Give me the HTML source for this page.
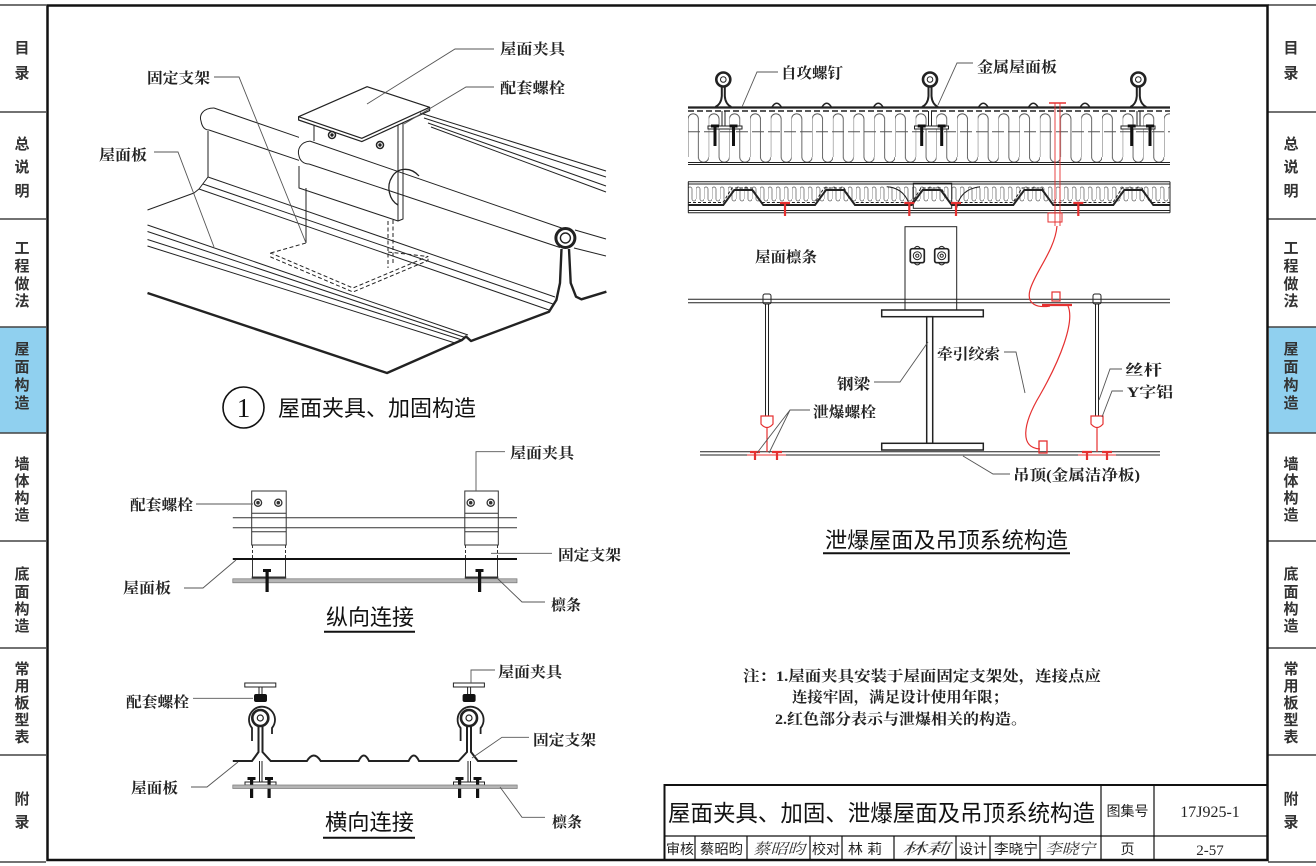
<!DOCTYPE html>
<html><head><meta charset="utf-8">
<style>
html,body{margin:0;padding:0;background:#fff;}
body{width:1316px;height:866px;overflow:hidden;}
svg{display:block;}
.side{font-family:"Liberation Sans","Noto Sans CJK SC",sans-serif;font-size:15px;font-weight:bold;fill:#333;}
.lab{font-family:"Liberation Serif","Noto Serif CJK SC",serif;font-size:15px;font-weight:bold;fill:#222;}
.ttl{font-family:"Liberation Sans","Noto Sans CJK SC",sans-serif;font-size:22px;fill:#111;}
.tb{font-family:"Liberation Sans","Noto Sans CJK SC",sans-serif;font-size:14px;fill:#222;}
.tbs{font-family:"Liberation Serif","Noto Serif CJK SC",serif;font-size:15px;fill:#222;}
.sig{font-family:"Liberation Serif","Noto Serif CJK SC",serif;font-size:15px;font-style:italic;fill:#333;}
</style></head><body>
<svg width="1316" height="866" viewBox="0 0 1316 866" xmlns="http://www.w3.org/2000/svg">
<defs>
<pattern id="ins1" patternUnits="userSpaceOnUse" x="688" y="111" width="20.7" height="52">
<path d="M0,46 L0,8 A5.175,5.175 0 0 1 10.35,8 L10.35,46 A5.175,5.175 0 0 0 20.7,46" fill="none" stroke="#444" stroke-width="0.8"/>
</pattern>
<pattern id="ins2" patternUnits="userSpaceOnUse" x="688" y="185" width="8" height="18">
<path d="M0,14 L0,4 A2,2 0 0 1 4,4 L4,14 A2,2 0 0 0 8,14" fill="none" stroke="#555" stroke-width="0.7"/>
</pattern>
</defs>
<rect x="0" y="0" width="1316" height="866" fill="#fff"/>

<!-- ===== Sidebars ===== -->
<rect x="0" y="327" width="46" height="106" fill="#90d0ef"/>
<rect x="1269" y="327" width="47" height="106" fill="#90d0ef"/>
<g stroke="#444" stroke-width="1.5">
<path d="M0,5 H46 M0,112 H46 M0,219 H46 M0,327 H46 M0,433 H46 M0,541 H46 M0,648 H46 M0,755 H46 M0,862 H46"/>
<path d="M1268,5 H1316 M1268,112 H1316 M1268,219 H1316 M1268,327 H1316 M1268,433 H1316 M1268,541 H1316 M1268,648 H1316 M1268,755 H1316 M1268,862 H1316"/>
</g>
<g class="side" text-anchor="middle">
<text x="22" y="53">目</text><text x="22" y="78">录</text>
<text x="22" y="149">总</text><text x="22" y="172">说</text><text x="22" y="196">明</text>
<text x="22" y="253">工</text><text x="22" y="271">程</text><text x="22" y="289">做</text><text x="22" y="306">法</text>
<text x="22" y="354">屋</text><text x="22" y="372">面</text><text x="22" y="390">构</text><text x="22" y="408">造</text>
<text x="22" y="469">墙</text><text x="22" y="486">体</text><text x="22" y="503">构</text><text x="22" y="520">造</text>
<text x="22" y="579">底</text><text x="22" y="597">面</text><text x="22" y="614">构</text><text x="22" y="631">造</text>
<text x="22" y="674">常</text><text x="22" y="691">用</text><text x="22" y="708">板</text><text x="22" y="725">型</text><text x="22" y="742">表</text>
<text x="22" y="804">附</text><text x="22" y="827">录</text>

<text x="1291" y="53">目</text><text x="1291" y="78">录</text>
<text x="1291" y="149">总</text><text x="1291" y="172">说</text><text x="1291" y="196">明</text>
<text x="1291" y="253">工</text><text x="1291" y="271">程</text><text x="1291" y="289">做</text><text x="1291" y="306">法</text>
<text x="1291" y="354">屋</text><text x="1291" y="372">面</text><text x="1291" y="390">构</text><text x="1291" y="408">造</text>
<text x="1291" y="469">墙</text><text x="1291" y="486">体</text><text x="1291" y="503">构</text><text x="1291" y="520">造</text>
<text x="1291" y="579">底</text><text x="1291" y="597">面</text><text x="1291" y="614">构</text><text x="1291" y="631">造</text>
<text x="1291" y="674">常</text><text x="1291" y="691">用</text><text x="1291" y="708">板</text><text x="1291" y="725">型</text><text x="1291" y="742">表</text>
<text x="1291" y="804">附</text><text x="1291" y="827">录</text>
</g>

<!-- ===== Main frame ===== -->
<rect x="47.5" y="5.5" width="1220" height="854.5" fill="none" stroke="#111" stroke-width="2.5"/>

<!-- ===== Diagram 1: isometric ===== -->
<g fill="none" stroke="#222" stroke-width="1" stroke-linejoin="round">
<path d="M147.5,225 L468,335 M147.5,231.5 L465,337.5 M147.5,239.5 L462,340 M147.5,246 L455,343"/>
<path d="M147.5,210 L194,193 L199,189 L208,177 L208,131"/>
<path d="M208,177 L555,297 M203,184 L553,304 M199,189 L549,310"/>
<path d="M214,108 L300,137.7 M209,130 L300,160.7"/>
<path d="M214,108 C203,108 199,115 201,121 C202,127 205,130 209,130"/>
<path d="M299,120 L299,188 L398,221 L403,219 L403,115 L360,100 Z" fill="#fff" stroke="none"/>
<path d="M299,166 L299,188 L398,221 L398,117 M403,117 L403,219 L398,221 M314,122 L314,141"/>
<path d="M310,141.1 L563,228.5 M309,164 L560,247.5"/>
<path d="M310,141.1 C300,142 297,150 299,156 C300,161 304,164 309,164" fill="#fff"/>
<path d="M398,205 C389,200 386,186 392,177 C397,168 410,166 419,176" stroke-width="1.3"/>
<path d="M306,188 L306,243"/>
<path d="M388,221 L388,268 M393,220 L393,265" stroke-dasharray="4 2.5"/>
<path d="M270.7,253 L306,243 M388,252 L428,256.5 L353,288 L270.7,253 L270.7,257 L353,292 L428,260.5 L428,256.5" stroke-dasharray="4 2.5"/>
<path d="M298.6,116.7 L367.1,86.7 L429.6,107.3 L429.6,110.6 L361.8,141.6 L298.6,120 Z" fill="#fff" stroke-width="1.2"/>
<path d="M298.6,116.7 L361.8,138.3 L429.6,107.3" stroke-width="1.2"/>
<circle cx="332" cy="135" r="3.5" stroke-width="1.5"/><circle cx="332" cy="135" r="1.2" fill="#222"/>
<circle cx="380" cy="145" r="3.5" stroke-width="1.5"/><circle cx="380" cy="145" r="1.2" fill="#222"/>
<path d="M420,113 L606,171 M424,118 L606,177 M428,123 L606,186 M431,127 L606,192"/>
<path d="M575,230 L606,239 M574,248 L606,256"/>
<path d="M147.5,293 L387,373 L462,340 L466,336.5 L471,341 L549,311.7 L556.4,300 L560,283 L561.5,249" stroke-width="2.4"/>
<path d="M569,249 L570.7,283 L576,296.7 L581.4,299.3 L606.4,291.7" stroke-width="2.4"/>
<circle cx="565.4" cy="238" r="9.5" stroke-width="3" fill="#fff"/>
<circle cx="565.4" cy="238" r="5" stroke-width="1.4"/>
</g>
<g fill="none" stroke="#555" stroke-width="0.9">
<path d="M494,49 L455,49 L367,104"/>
<path d="M494,87 L466,87 L404,124"/>
<path d="M214,77 L239,77 L306,243"/>
<path d="M154,152 L178,152 L214,247"/>
</g>
<g class="lab">
<text x="500" y="54" textLength="65" lengthAdjust="spacingAndGlyphs">屋面夹具</text>
<text x="500" y="93" textLength="65" lengthAdjust="spacingAndGlyphs">配套螺栓</text>
<text x="147" y="83" textLength="63" lengthAdjust="spacingAndGlyphs">固定支架</text>
<text x="99" y="160" textLength="48" lengthAdjust="spacingAndGlyphs">屋面板</text>
</g>
<circle cx="243.5" cy="407.5" r="20.5" fill="none" stroke="#111" stroke-width="1.6"/>
<text x="243.5" y="417" text-anchor="middle" style="font-family:'Liberation Serif',serif;font-size:27px;fill:#111">1</text>
<text class="ttl" x="278" y="416" textLength="198" lengthAdjust="spacingAndGlyphs">屋面夹具、加固构造</text>

<!-- ===== Diagram 2: 纵向连接 ===== -->
<g fill="none" stroke="#333" stroke-width="1">
<path d="M232.8,517.7 H517 M232.8,527.7 H517"/>
<rect x="251.7" y="491" width="34.5" height="54" fill="none"/>
<path d="M251.7,513.3 H286.2 M251.7,531.7 H286.2"/>
<rect x="464.8" y="491" width="33.5" height="54" fill="none"/>
<path d="M464.8,513.3 H498.3 M464.8,531.7 H498.3"/>
<path d="M252.5,545 V559 M285.5,545 V559 M465.5,545 V559 M497.5,545 V559" stroke-dasharray="3 2"/>
<path d="M252.5,559 V577 M285.5,559 V577 M465.5,559 V577 M497.5,559 V577"/>
<path d="M251.7,577.5 H286.2 M464.8,577.5 H498.3" stroke-width="2"/>
<circle cx="258" cy="502.7" r="3.6" stroke-width="1.3"/><circle cx="258" cy="502.7" r="1.3" fill="#333"/>
<circle cx="278.3" cy="502.7" r="3.6" stroke-width="1.3"/><circle cx="278.3" cy="502.7" r="1.3" fill="#333"/>
<circle cx="470.7" cy="502.7" r="3.6" stroke-width="1.3"/><circle cx="470.7" cy="502.7" r="1.3" fill="#333"/>
<circle cx="490.7" cy="502.7" r="3.6" stroke-width="1.3"/><circle cx="490.7" cy="502.7" r="1.3" fill="#333"/>
</g>
<path d="M232.8,559 H517" stroke="#111" stroke-width="2"/>
<rect x="232.8" y="578.8" width="284.2" height="4" fill="#b5b5b5" stroke="#777" stroke-width="0.7"/>
<g fill="#111">
<rect x="265.5" y="570" width="3.2" height="22"/><rect x="263" y="569" width="8" height="3"/>
<rect x="478" y="570" width="3.2" height="22"/><rect x="475.5" y="569" width="8" height="3"/>
</g>
<g fill="none" stroke="#555" stroke-width="0.9">
<path d="M505,451.7 H476 V491"/>
<path d="M196,504 H253"/>
<path d="M552,553.3 H491"/>
<path d="M184,588 H203 L236,560"/>
<path d="M545,602 H522 L498,579"/>
</g>
<g class="lab">
<text x="510" y="458" textLength="64" lengthAdjust="spacingAndGlyphs">屋面夹具</text>
<text x="130" y="510" textLength="63" lengthAdjust="spacingAndGlyphs">配套螺栓</text>
<text x="558" y="560" textLength="63" lengthAdjust="spacingAndGlyphs">固定支架</text>
<text x="123" y="593" textLength="48" lengthAdjust="spacingAndGlyphs">屋面板</text>
<text x="551" y="610" textLength="30" lengthAdjust="spacingAndGlyphs">檩条</text>
</g>
<text class="ttl" x="326" y="625" textLength="88" lengthAdjust="spacingAndGlyphs">纵向连接</text>
<path d="M324,631.7 H415" stroke="#111" stroke-width="2"/>

<!-- ===== Diagram 3: 横向连接 ===== -->
<g fill="none" stroke="#222" stroke-width="1">
<rect x="244.8" y="683" width="31" height="4"/>
<rect x="453.4" y="683" width="31" height="4"/>
<path d="M259,687 V695 M262,687 V695 M467.6,687 V695 M470.6,687 V695"/>
<path d="M252,741 L252,728 A13,13 0 1 1 272,728 L272,734" stroke-width="1.8"/>
<path d="M460.6,741 L460.6,728 A13,13 0 1 1 480.6,728 L480.6,734" stroke-width="1.8"/>
<circle cx="260.3" cy="718" r="8" stroke-width="2.6"/><circle cx="260.3" cy="718" r="3" stroke-width="1.2"/>
<circle cx="469" cy="718" r="8" stroke-width="2.6"/><circle cx="469" cy="718" r="3" stroke-width="1.2"/>
<path d="M232.8,761 L252,761 L258.5,752 L258.5,726 M262.5,726 L262.5,752 L270.7,761 L306.9,761 Q313.8,750 320.7,761 L358.6,761 Q363.8,750 369,761 L408.6,761 Q413.8,750 419,761 L458.6,761 L467,752 L467,726 M471,726 L471,752 L478,761 L517.2,761" stroke-width="2"/>
<path d="M259.5,761 V783 M262,761 V783 M468,761 V783 M470.5,761 V783"/>
<rect x="245" y="782" width="31" height="3" fill="#fff"/>
<rect x="453.5" y="782" width="31" height="3" fill="#fff"/>
</g>
<g fill="#111">
<rect x="254" y="694" width="13" height="8" rx="2"/>
<rect x="462.6" y="694" width="13" height="8" rx="2"/>
<rect x="250" y="778" width="3.2" height="20"/><rect x="247.5" y="777" width="8" height="3"/>
<rect x="267.5" y="778" width="3.2" height="20"/><rect x="265" y="777" width="8" height="3"/>
<rect x="458" y="778" width="3.2" height="20"/><rect x="455.5" y="777" width="8" height="3"/>
<rect x="476" y="778" width="3.2" height="20"/><rect x="473.5" y="777" width="8" height="3"/>
</g>
<rect x="232.8" y="785" width="284.4" height="3.5" fill="#b5b5b5" stroke="#777" stroke-width="0.7"/>
<g fill="none" stroke="#555" stroke-width="0.9">
<path d="M495,670 H471 V683"/>
<path d="M193,698.3 H253"/>
<path d="M529,737.3 H502 L472,758"/>
<path d="M191,787 H207 L238,762"/>
<path d="M545,817.3 H522 L500,787"/>
</g>
<g class="lab">
<text x="498" y="677" textLength="64" lengthAdjust="spacingAndGlyphs">屋面夹具</text>
<text x="126" y="707" textLength="63" lengthAdjust="spacingAndGlyphs">配套螺栓</text>
<text x="533" y="745" textLength="63" lengthAdjust="spacingAndGlyphs">固定支架</text>
<text x="131" y="793" textLength="47" lengthAdjust="spacingAndGlyphs">屋面板</text>
<text x="552" y="827" textLength="30" lengthAdjust="spacingAndGlyphs">檩条</text>
</g>
<text class="ttl" x="325" y="830" textLength="89" lengthAdjust="spacingAndGlyphs">横向连接</text>
<path d="M323,837.7 H415" stroke="#111" stroke-width="2"/>

<!-- ===== Diagram 4: 泄爆屋面及吊顶 ===== -->
<rect x="688" y="112" width="482" height="50" fill="url(#ins1)"/>
<g fill="none" stroke="#222" stroke-width="1">
<path d="M688,131.7 H1170" stroke-dasharray="12 4" stroke="#555"/>
<path d="M688,162.5 H1170 M688,164.5 H1170"/>
<path d="M688,111 H1170" stroke-dasharray="6 3" stroke-width="1.5"/>
<path d="M688,107.5 H1170" stroke-width="2.2"/>
<path d="M771.7,107.5 Q776.7,99 781.7,107.5 M821.7,107.5 Q826.7,99 831.7,107.5 M873.3,107.5 Q878.3,99 883.3,107.5 M978.3,107.5 Q983.3,99 988.3,107.5 M1028.3,107.5 Q1033.3,99 1038.3,107.5 M1080,107.5 Q1085,99 1090,107.5" stroke-width="1.5"/>
<g stroke-width="2">
<path d="M715.3,107 Q721.3,104 721.8,96 L721.8,87 M724.8,87 L724.8,96 Q725.3,104 731.3,107"/>
<path d="M922,107 Q928,104 928.5,96 L928.5,87 M931.5,87 L931.5,96 Q932,104 938,107"/>
<path d="M1130.3,107 Q1136.3,104 1136.8,96 L1136.8,87 M1139.8,87 L1139.8,96 Q1140.3,104 1146.3,107"/>
</g>
<circle cx="723.3" cy="79.5" r="7" stroke-width="2.6" fill="#fff"/><circle cx="723.3" cy="79.5" r="2.8"/>
<circle cx="930" cy="79.5" r="7" stroke-width="2.6" fill="#fff"/><circle cx="930" cy="79.5" r="2.8"/>
<circle cx="1138.3" cy="79.5" r="7" stroke-width="2.6" fill="#fff"/><circle cx="1138.3" cy="79.5" r="2.8"/>
<path d="M722,111 V126 M725,111 V126 M928.5,111 V126 M931.5,111 V126 M1137,111 V126 M1140,111 V126"/>
<rect x="708" y="126" width="34" height="3" fill="#fff"/>
<rect x="914.5" y="126" width="34" height="3" fill="#fff"/>
<rect x="1121" y="126" width="34" height="3" fill="#fff"/>
</g>
<g fill="#111">
<rect x="713.5" y="126" width="3" height="20"/><rect x="711" y="124.5" width="8" height="3"/>
<rect x="732" y="126" width="3" height="20"/><rect x="729.5" y="124.5" width="8" height="3"/>
<rect x="920.2" y="126" width="3" height="20"/><rect x="917.7" y="124.5" width="8" height="3"/>
<rect x="940.2" y="126" width="3" height="20"/><rect x="937.7" y="124.5" width="8" height="3"/>
<rect x="1130.2" y="126" width="3" height="20"/><rect x="1127.7" y="124.5" width="8" height="3"/>
<rect x="1148.5" y="126" width="3" height="20"/><rect x="1146" y="124.5" width="8" height="3"/>
</g>
<rect x="688" y="186" width="482" height="18" fill="url(#ins2)"/>
<g fill="none" stroke="#222" stroke-width="1">
<path d="M688,181.7 H1170 M688,184 H1170 M688,210.5 H1170 M688,212.7 H1170 M688.3,181.7 V212.7 M1170,181.7 V212.7"/>
<path d="M688,202.5 H723 L732,188 H752 L761,202.5 H815 L824,188 H844 L853,202.5 H912 L921,188 H941 L950,202.5 H1013 L1022,188 H1042 L1051,202.5 H1113 L1122,188 H1142 L1151,202.5 H1170" stroke-dasharray="3 2"/>
<path d="M688,205 H723.3 L734.3,190 H752.3 L763.3,205 H815 L826,190 H844 L855,205 H911.7 L922.7,190 H940.7 L951.7,205 H1013.3 L1024.3,190 H1042.3 L1053.3,205 H1113.3 L1124.3,190 H1142.3 L1153.3,205 H1170" stroke-width="2"/>
<rect x="913.3" y="183.3" width="38.4" height="25"/>
<path d="M886.7,186.7 Q905,188 910,206.7 M956.7,208 Q960,189 980,186.7"/>
</g>
<g stroke="#e53030" fill="none">
<path d="M780,203 H790 M785,203 V216 M904.3,203 H914.3 M909.3,203 V216 M951,203 H961 M956,203 V216 M1073.3,203 H1083.3 M1078.3,203 V216" stroke-width="2.2"/>
<path d="M1055,103 V226 M1060,103 V226" stroke-width="0.9"/>
<path d="M1049,103 H1066" stroke-width="1.6"/>
<rect x="1048" y="213" width="14" height="9" stroke-width="1"/>
</g>
<g fill="none" stroke="#222" stroke-width="1">
<rect x="905" y="226.7" width="51.7" height="83.3" fill="#fff"/>
<rect x="910.3" y="248.7" width="14" height="14" rx="2" stroke-width="1.7"/>
<rect x="934.7" y="248.7" width="14" height="14" rx="2" stroke-width="1.7"/>
<circle cx="917.3" cy="255.7" r="4"/><circle cx="917.3" cy="255.7" r="1.6"/>
<circle cx="941.7" cy="255.7" r="4"/><circle cx="941.7" cy="255.7" r="1.6"/>
<path d="M914,248.7 Q917.3,244 920.6,248.7 M914,262.7 Q917.3,267 920.6,262.7 M938.4,248.7 Q941.7,244 945,248.7 M938.4,262.7 Q941.7,267 945,262.7"/>
<path d="M688,299.3 H1170 M688,302.7 H1170"/>
<rect x="881.7" y="310" width="101.6" height="6.7" fill="#fff" stroke-width="1.5"/>
<rect x="926.7" y="316.7" width="6" height="126.6" fill="#fff" stroke-width="1.5"/>
<rect x="881.7" y="443.3" width="101.6" height="6.7" fill="#fff" stroke-width="1.5"/>
<path d="M700,451.7 H1160 M700,455 H1160"/>
<rect x="763" y="294" width="8" height="10" rx="2"/>
<path d="M765.5,304 V416 M768.5,304 V416"/>
<rect x="1093" y="294" width="8" height="10" rx="2"/>
<path d="M1095.5,304 V416 M1098.5,304 V416"/>
</g>
<g fill="none" stroke="#e53030">
<path d="M761,416 L761,424 Q767,431 773,424 L773,416 Z" stroke-width="1.2"/>
<path d="M1091,416 L1091,424 Q1097,431 1103,424 L1103,416 Z" stroke-width="1.2"/>
<path d="M767,428 V452 M1097,428 V452" stroke-width="1.2"/>
<path d="M750,452 H760 M755,452 V460 M772,452 H782 M777,452 V460 M1082,452 H1092 M1087,452 V460 M1102,452 H1112 M1107,452 V460" stroke-width="2.2"/>
<path d="M747,455 H786 M1078,455 H1116" stroke-width="1"/>
<path d="M1057,226 C1055,250 1035,272 1030,290 C1026,305 1038,308 1050,306" stroke-width="1.2"/>
<rect x="1052" y="292" width="8" height="9" stroke-width="1.2"/>
<path d="M1042,305 H1072" stroke-width="2.2"/>
<path d="M1068,306 C1075,322 1060,360 1040,395 C1022,425 1020,448 1040,449" stroke-width="1.2"/>
<rect x="1039" y="441" width="8" height="12" stroke-width="1.3"/>
</g>
<g fill="none" stroke="#555" stroke-width="0.9">
<path d="M778,72 H757 L742,107"/>
<path d="M973,63 H957 L938,105"/>
<path d="M1004,352 H1016 L1025,393"/>
<path d="M874,382 H900 L928,342"/>
<path d="M810,410 H790 L769,453 M790,410 L757,453"/>
<path d="M1122,369 H1110 L1099,400"/>
<path d="M1123,391 H1112 L1102,417"/>
<path d="M1010,474 H993 L963,456"/>
</g>
<g class="lab">
<text x="781" y="78" textLength="62" lengthAdjust="spacingAndGlyphs">自攻螺钉</text>
<text x="977" y="72" textLength="80" lengthAdjust="spacingAndGlyphs">金属屋面板</text>
<text x="755" y="262" textLength="62" lengthAdjust="spacingAndGlyphs">屋面檩条</text>
<text x="937" y="359" textLength="63" lengthAdjust="spacingAndGlyphs">牵引绞索</text>
<text x="837" y="389" textLength="33" lengthAdjust="spacingAndGlyphs">钢梁</text>
<text x="813" y="417" textLength="63" lengthAdjust="spacingAndGlyphs">泄爆螺栓</text>
<text x="1125" y="375" textLength="37" lengthAdjust="spacingAndGlyphs">丝杆</text>
<text x="1127" y="397" textLength="46" lengthAdjust="spacingAndGlyphs">Y字铝</text>
<text x="1013" y="480" textLength="127" lengthAdjust="spacingAndGlyphs">吊顶(金属洁净板)</text>
</g>
<text class="ttl" x="825" y="548" textLength="243" lengthAdjust="spacingAndGlyphs">泄爆屋面及吊顶系统构造</text>
<path d="M823,553.3 H1070" stroke="#111" stroke-width="2"/>

<g class="lab">
<text x="743" y="681" textLength="358" lengthAdjust="spacingAndGlyphs">注：1.屋面夹具安装于屋面固定支架处，连接点应</text>
<text x="792" y="702" textLength="216" lengthAdjust="spacingAndGlyphs">连接牢固，满足设计使用年限；</text>
<text x="775" y="724" textLength="252" lengthAdjust="spacingAndGlyphs">2.红色部分表示与泄爆相关的构造。</text>
</g>

<!-- ===== Title block ===== -->
<g fill="none" stroke="#111">
<rect x="664.5" y="785" width="603" height="75" stroke-width="2"/>
<path d="M664.5,836 H1267.5" stroke-width="1.2"/>
<path d="M1101,785 V860 M1154,785 V860" stroke-width="1.2"/>
<path d="M695,836 V860 M747,836 V860 M810,836 V860 M842,836 V860 M894,836 V860 M956,836 V860 M990,836 V860 M1040,836 V860" stroke-width="1.2"/>
</g>
<text class="ttl" x="668" y="821" textLength="427" lengthAdjust="spacingAndGlyphs" style="font-size:23px">屋面夹具、加固、泄爆屋面及吊顶系统构造</text>
<text class="tb" x="1127.5" y="816" text-anchor="middle">图集号</text>
<text class="tbs" x="1210" y="817" text-anchor="middle" style="font-size:16px">17J925-1</text>
<g class="tb">
<text x="666" y="854" textLength="28" lengthAdjust="spacingAndGlyphs">审核</text>
<text x="700" y="854" textLength="43" lengthAdjust="spacingAndGlyphs">蔡昭昀</text>
<text x="812" y="854" textLength="28" lengthAdjust="spacingAndGlyphs">校对</text>
<text x="848" y="854" textLength="34" lengthAdjust="spacingAndGlyphs">林 莉</text>
<text x="959" y="854" textLength="28" lengthAdjust="spacingAndGlyphs">设计</text>
<text x="994" y="854" textLength="44" lengthAdjust="spacingAndGlyphs">李晓宁</text>
<text x="1127.5" y="854" text-anchor="middle">页</text>
</g>
<text class="tbs" x="1210" y="855" text-anchor="middle">2-57</text>
<g class="sig">
<text x="753" y="854" textLength="52" lengthAdjust="spacingAndGlyphs">蔡昭昀</text>
<text x="902" y="854" textLength="48" lengthAdjust="spacingAndGlyphs">林莉</text>
<text x="1045" y="854" textLength="50" lengthAdjust="spacingAndGlyphs">李晓宁</text>
</g>
</svg>
</body></html>
